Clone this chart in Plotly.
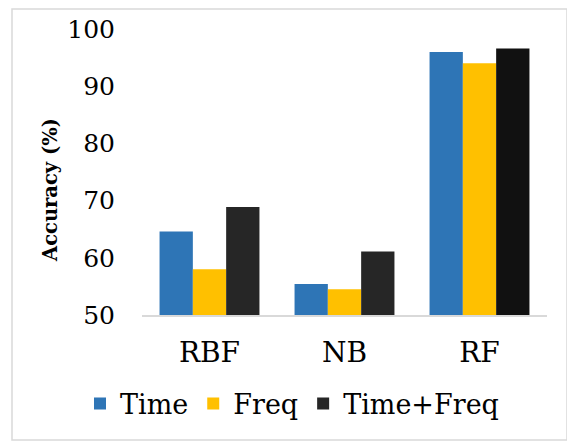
import plotly.graph_objects as go

categories = ["RBF", "NB", "RF"]
time_vals = [64.6, 55.4, 96.0]
freq_vals = [58.0, 54.5, 94.0]
timefreq_vals = [68.9, 61.1, 96.6]
series_names = ["Time", "Freq", "Time+Freq"]
y_ticks = [50, 60, 70, 80, 90, 100]

FONT = "DejaVu Serif"

# plot area in figure pixels (page has an 8px body offset)
L, T, PW, PH = 134, 21, 405, 286
W, H = 575, 441

fig = go.Figure()
fig.add_trace(go.Bar(x=categories, y=time_vals, name=series_names[0],
                     marker=dict(color="#2E75B6", line=dict(width=0))))
fig.add_trace(go.Bar(x=categories, y=freq_vals, name=series_names[1],
                     marker=dict(color="#FFC000", line=dict(width=0))))
fig.add_trace(go.Bar(x=categories, y=timefreq_vals, name=series_names[2],
                     marker=dict(color=["#262626", "#262626", "#111111"], line=dict(width=0))))

def px_x(p):
    return (p - L) / PW

def px_y(p):
    return (T + PH - p) / PH

fig.update_layout(
    width=W, height=H,
    margin=dict(l=L, r=W - L - PW, t=T, b=H - T - PH, autoexpand=False),
    paper_bgcolor="white", plot_bgcolor="white",
    barmode="group", bargap=0.26, bargroupgap=0,
    font=dict(family=FONT, color="black"),
    showlegend=True,
    legend=dict(orientation="h", x=px_x(72), xanchor="left", y=px_y(396), yanchor="middle",
                font=dict(size=27, family=FONT), itemwidth=30, tracegroupgap=0,
                bgcolor="rgba(0,0,0,0)"),
    xaxis=dict(showgrid=False, showline=True, linecolor="#D9D9D9", linewidth=1.5,
               ticks="", tickfont=dict(size=28, family=FONT), ticklabelstandoff=12),
    yaxis=dict(range=[50, 100], tickvals=y_ticks, showgrid=False, zeroline=False,
               showline=False, ticks="", tickfont=dict(size=25, family=FONT),
               ticklabelstandoff=26),
    annotations=[dict(text="<b>Accuracy (%)</b>", xref="paper", yref="paper",
                      x=px_x(42), y=px_y(182), textangle=-90, showarrow=False,
                      font=dict(size=19.5, family=FONT), xanchor="center", yanchor="middle")],
    shapes=[dict(type="rect", xref="paper", yref="paper",
                 x0=px_x(4), x1=px_x(559), y0=px_y(432), y1=px_y(1),
                 line=dict(color="#D9D9D9", width=1.5), fillcolor="rgba(0,0,0,0)")],
)

fig.write_html("out.html")
